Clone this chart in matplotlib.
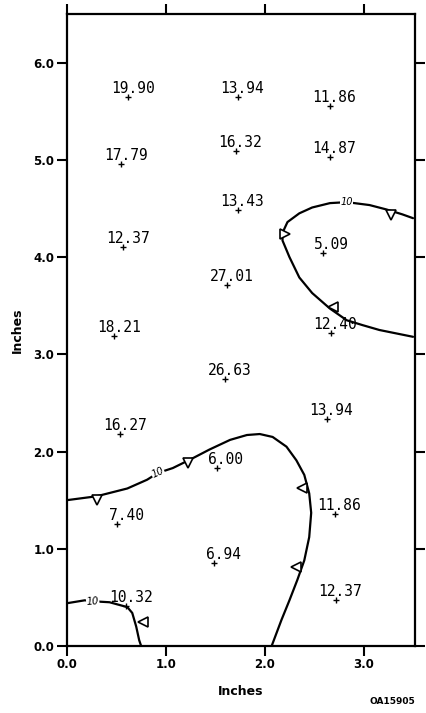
import matplotlib
matplotlib.use("Agg")
import matplotlib.pyplot as plt

# ---- data ----
pt_x = [0.62, 0.55, 1.73, 2.66, 1.71, 2.66, 1.73, 0.57, 2.59, 1.62, 0.48, 2.67,
        1.60, 2.63, 0.54, 1.52, 0.51, 2.71, 1.49, 2.72, 0.60]
pt_y = [5.65, 4.96, 5.65, 5.55, 5.09, 5.03, 4.48, 4.10, 4.04, 3.71, 3.19, 3.22,
        2.75, 2.33, 2.18, 1.83, 1.25, 1.36, 0.85, 0.47, 0.41]
pt_lbl = ["19.90", "17.79", "13.94", "11.86", "16.32", "14.87", "13.43", "12.37",
          "5.09", "27.01", "18.21", "12.40", "26.63", "13.94", "16.27", "6.00",
          "7.40", "11.86", "6.94", "12.37", "10.32"]

# contour (level 10) lines
c1_x = [3.50, 3.39, 3.23, 3.06, 2.83, 2.66, 2.48, 2.35, 2.23, 2.18, 2.18, 2.25, 2.35,
        2.48, 2.66, 2.83, 2.99, 3.16, 3.50]
c1_y = [4.40, 4.44, 4.49, 4.535, 4.565, 4.555, 4.51, 4.45, 4.36, 4.25, 4.17, 4.00, 3.79,
        3.63, 3.47, 3.35, 3.30, 3.25, 3.18]
c2_x = [0.00, 0.30, 0.61, 0.81, 0.92, 1.07, 1.27, 1.44, 1.65, 1.82, 1.95, 2.08, 2.22,
        2.32, 2.40, 2.45, 2.47, 2.45, 2.40, 2.33, 2.25, 2.17, 2.07]
c2_y = [1.50, 1.54, 1.62, 1.71, 1.78, 1.83, 1.93, 2.02, 2.12, 2.17, 2.18, 2.15, 2.05,
        1.91, 1.76, 1.57, 1.37, 1.12, 0.88, 0.68, 0.47, 0.27, 0.00]
c3_x = [0.00, 0.18, 0.26, 0.43, 0.61, 0.66, 0.70, 0.73, 0.75]
c3_y = [0.44, 0.47, 0.46, 0.45, 0.40, 0.34, 0.20, 0.06, 0.00]

clab_x = [2.83, 0.92, 0.26]
clab_y = [4.565, 1.78, 0.46]
clab_rot = [0, 25, 4]
clab_txt = ["10", "10", "10"]

tri_x = [3.28, 2.21, 2.69, 0.30, 1.22, 2.38, 2.32, 0.77]
tri_y = [4.43, 4.24, 3.49, 1.50, 1.88, 1.62, 0.81, 0.25]
tri_m = ["v", ">", "<", "v", "v", "<", "<", "<"]

xticks = [0.0, 1.0, 2.0, 3.0]
yticks = [0.0, 1.0, 2.0, 3.0, 4.0, 5.0, 6.0]

# ---- figure ----
fig = plt.figure(figsize=(4.26, 7.13), dpi=100)
ax = fig.add_axes([67/426, 67/713, (415-67)/426, (646-14)/713])
ax.set_xlim(0, 3.52)
ax.set_ylim(0, 6.5)

for cx, cy in [(c1_x, c1_y), (c2_x, c2_y), (c3_x, c3_y)]:
    ax.plot(cx, cy, color="black", lw=1.6, solid_capstyle="round",
            solid_joinstyle="round", clip_on=True)

for x, y, m in zip(tri_x, tri_y, tri_m):
    ax.plot(x, y, marker=m, ms=7, mfc="white", mec="black", mew=1.2, ls="none", zorder=4)

for x, y, t, r in zip(clab_x, clab_y, clab_txt, clab_rot):
    ax.text(x, y, t, fontsize=7, style="italic", rotation=r, ha="center", va="center",
            rotation_mode="anchor",
            bbox=dict(facecolor="white", edgecolor="none", pad=0.3), zorder=5)

fs = 10.5
charw = 0.602 * fs * 100 / 72
ax.plot(pt_x, pt_y, marker="+", ms=4, mew=1.0, color="black", ls="none", zorder=6)
for x, y, s in zip(pt_x, pt_y, pt_lbl):
    idx = s.index(".")
    ax.annotate(s, (x, y), xytext=(-charw * idx, 4), textcoords="offset pixels",
                ha="left", va="baseline", fontsize=fs, family="DejaVu Sans Mono", zorder=7)

ax.set_xticks(xticks)
ax.set_yticks(yticks)
ax.set_xticklabels([f"{v:.1f}" for v in xticks], fontsize=8.5, fontweight="bold")
ax.set_yticklabels([f"{v:.1f}" for v in yticks], fontsize=8.5, fontweight="bold")
ax.tick_params(direction="out", length=7, width=1.5, top=True, right=True,
               labeltop=False, labelright=False, pad=2)
for sp in ax.spines.values():
    sp.set_linewidth(1.6)

ax.set_xlabel("Inches", fontsize=9, fontweight="bold", labelpad=10)
ax.set_ylabel("Inches", fontsize=9, fontweight="bold", labelpad=7)
fig.text(392/426, 1 - 701/713, "OA15905", fontsize=6.5, fontweight="bold",
         ha="center", va="center")

fig.savefig("out.png", dpi=100)
